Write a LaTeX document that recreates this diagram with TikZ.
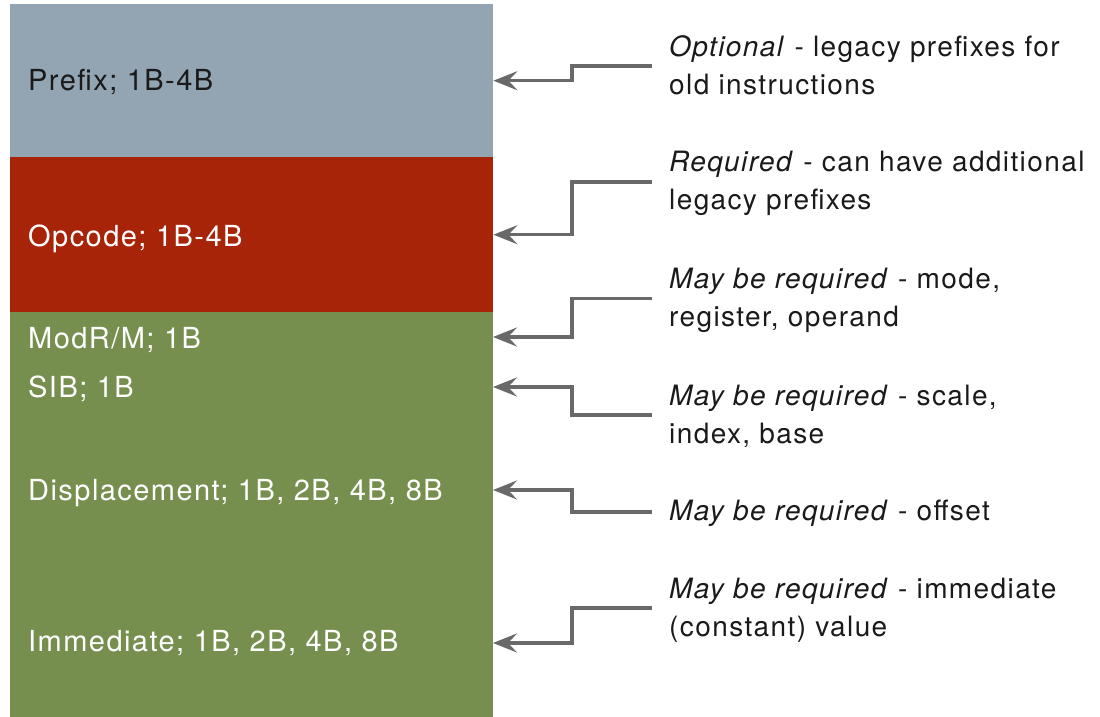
\documentclass[tikz,border=0pt]{standalone}
\usepackage{fontspec}
\setmainfont{TeX Gyre Heros}[LetterSpace=5]
\usetikzlibrary{arrows.meta}
\definecolor{prefixc}{RGB}{147,164,178}
\definecolor{opcodec}{RGB}{168,36,8}
\definecolor{greenc}{RGB}{118,143,78}
\definecolor{arrowc}{RGB}{105,105,105}
\definecolor{txtc}{RGB}{26,26,26}
\newcommand{\ls}{\rule[-4pt]{0pt}{28pt}}
\begin{document}
\begin{tikzpicture}[x=1pt,y=-1pt,
  block/.style={anchor=north west,inner sep=0pt,minimum width=483pt,draw=none},
  lbl/.style={anchor=west,inner sep=0pt,font=\fontsize{29pt}{38pt}\selectfont},
  desc/.style={anchor=west,inner xsep=17pt,inner ysep=0pt,align=left,text=txtc,
    font=\fontsize{28pt}{38pt}\selectfont},
  conn/.style={draw=arrowc,line width=3.2pt,-{Stealth[length=24pt,width=19pt,inset=9pt]}}]
\useasboundingbox (0,0) rectangle (1100,717);
% blocks
\node[block,fill=prefixc,minimum height=153pt] (prefixbox) at (10,4) {};
\node[block,fill=opcodec,minimum height=155pt] (opcodebox) at (10,157) {};
\node[block,fill=greenc,minimum height=405pt] (greenbox) at (10,312) {};
% labels
\node[lbl,text=txtc] (lprefix) at (28,81) {\ls Prefix; 1B-4B};
\node[lbl,text=white] (lopcode) at (28,238) {\ls Opcode; 1B-4B};
\node[lbl,text=white] (lmodrm) at (28,339) {\ls ModR/M; 1B};
\node[lbl,text=white] (lsib) at (28,388) {\ls SIB; 1B};
\node[lbl,text=white] (ldisp) at (28,492) {\ls Displacement; 1B, 2B, 4B, 8B};
\node[lbl,text=white] (limm) at (28,642) {\ls Immediate; 1B, 2B, 4B, 8B};
% targets on the block edge
\coordinate (tmodrm) at (493,337);
\coordinate (tsib) at (493,387);
\coordinate (tdisp) at (493,490);
\coordinate (timm) at (493,643);
\coordinate (ex) at (572,0);
% descriptions
\node[desc] (dprefix) at (652,66) {\ls\textit{Optional} - legacy prefixes for\\\ls old instructions};
\node[desc] (dopcode) at (652,182) {\ls\textit{Required} - can have additional\\\ls legacy prefixes};
\node[desc] (dmodrm) at (652,298.5) {\ls\textit{May be required} - mode,\\\ls register, operand};
\node[desc] (dsib) at (652,415) {\ls\textit{May be required} - scale,\\\ls index, base};
\node[desc] (ddisp) at (652,512) {\ls\textit{May be required} - offset};
\node[desc] (dimm) at (652,608) {\ls\textit{May be required} - immediate\\\ls (constant) value};
% connectors
\draw[conn] (dprefix.west) -- (dprefix.west -| ex) |- (prefixbox.east);
\draw[conn] (dopcode.west) -- (dopcode.west -| ex) |- (opcodebox.east);
\draw[conn] (dmodrm.west) -- (dmodrm.west -| ex) |- (tmodrm);
\draw[conn] (dsib.west) -- (dsib.west -| ex) |- (tsib);
\draw[conn] (ddisp.west) -- (ddisp.west -| ex) |- (tdisp);
\draw[conn] (dimm.west) -- (dimm.west -| ex) |- (timm);
\end{tikzpicture}
\end{document}
